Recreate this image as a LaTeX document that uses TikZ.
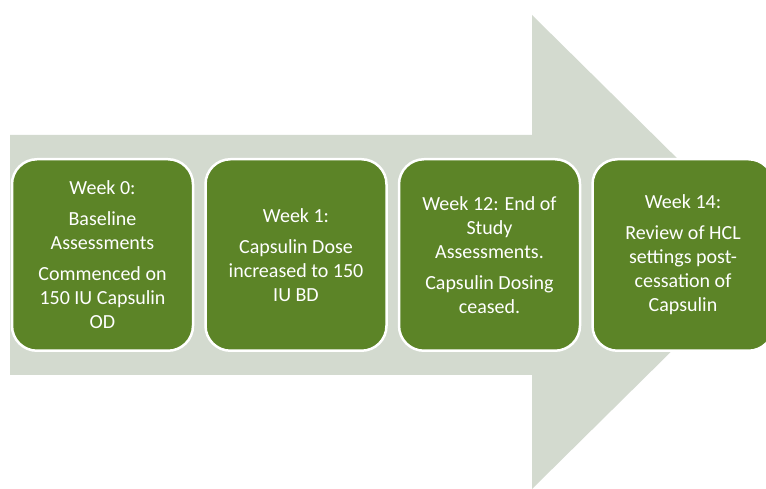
\documentclass[tikz,border=0pt]{standalone}
\usepackage{fontspec}
\setmainfont{Carlito}
\usepackage{tikz}
\usetikzlibrary{positioning}
\definecolor{arrowgray}{RGB}{211,218,207}
\definecolor{stagegreen}{RGB}{92,132,39}
\tikzset{
    stage/.style={draw=white, line width=2.5pt, fill=stagegreen, rounded corners=25pt,
        minimum width=181pt, minimum height=191.5pt, inner sep=0pt,
        text=white, align=center, font=\fontsize{20}{24}\selectfont}
}

\begin{document}
\begin{tikzpicture}[x=1pt,y=1pt]
    \def\shaftleft{10}
    \def\shafttop{354}
    \def\shaftbot{114}
    \def\headx{532}
    \def\headtop{474}
    \def\headbot{0}

    \useasboundingbox (0,0) rectangle (766,489);

    \coordinate (TIP) at (772,237);

    % Arrow
    \fill[arrowgray] (\shaftleft,\shaftbot) -- (\shaftleft,\shafttop) -- (\headx,\shafttop)
        -- (\headx,\headtop) -- (TIP) -- (\headx,\headbot) -- (\headx,\shaftbot) -- cycle;

    % Stages
    \node[stage] (wk0) at (102.5,234) {Week 0:\\[7pt]Baseline\\Assessments\\[7pt]Commenced on\\150 IU Capsulin\\OD};
    \node[stage, right=10pt of wk0] (wk1) {Week 1:\\[7pt]Capsulin Dose\\increased to 150\\IU BD};
    \node[stage, right=10pt of wk1] (wk12) {Week 12: End of\\Study\\Assessments.\\[7pt]Capsulin Dosing\\ceased.};
    \node[stage, right=10pt of wk12] (wk14) {Week 14:\\[7pt]Review of HCL\\settings post-\\cessation of\\Capsulin};
\end{tikzpicture}
\end{document}
